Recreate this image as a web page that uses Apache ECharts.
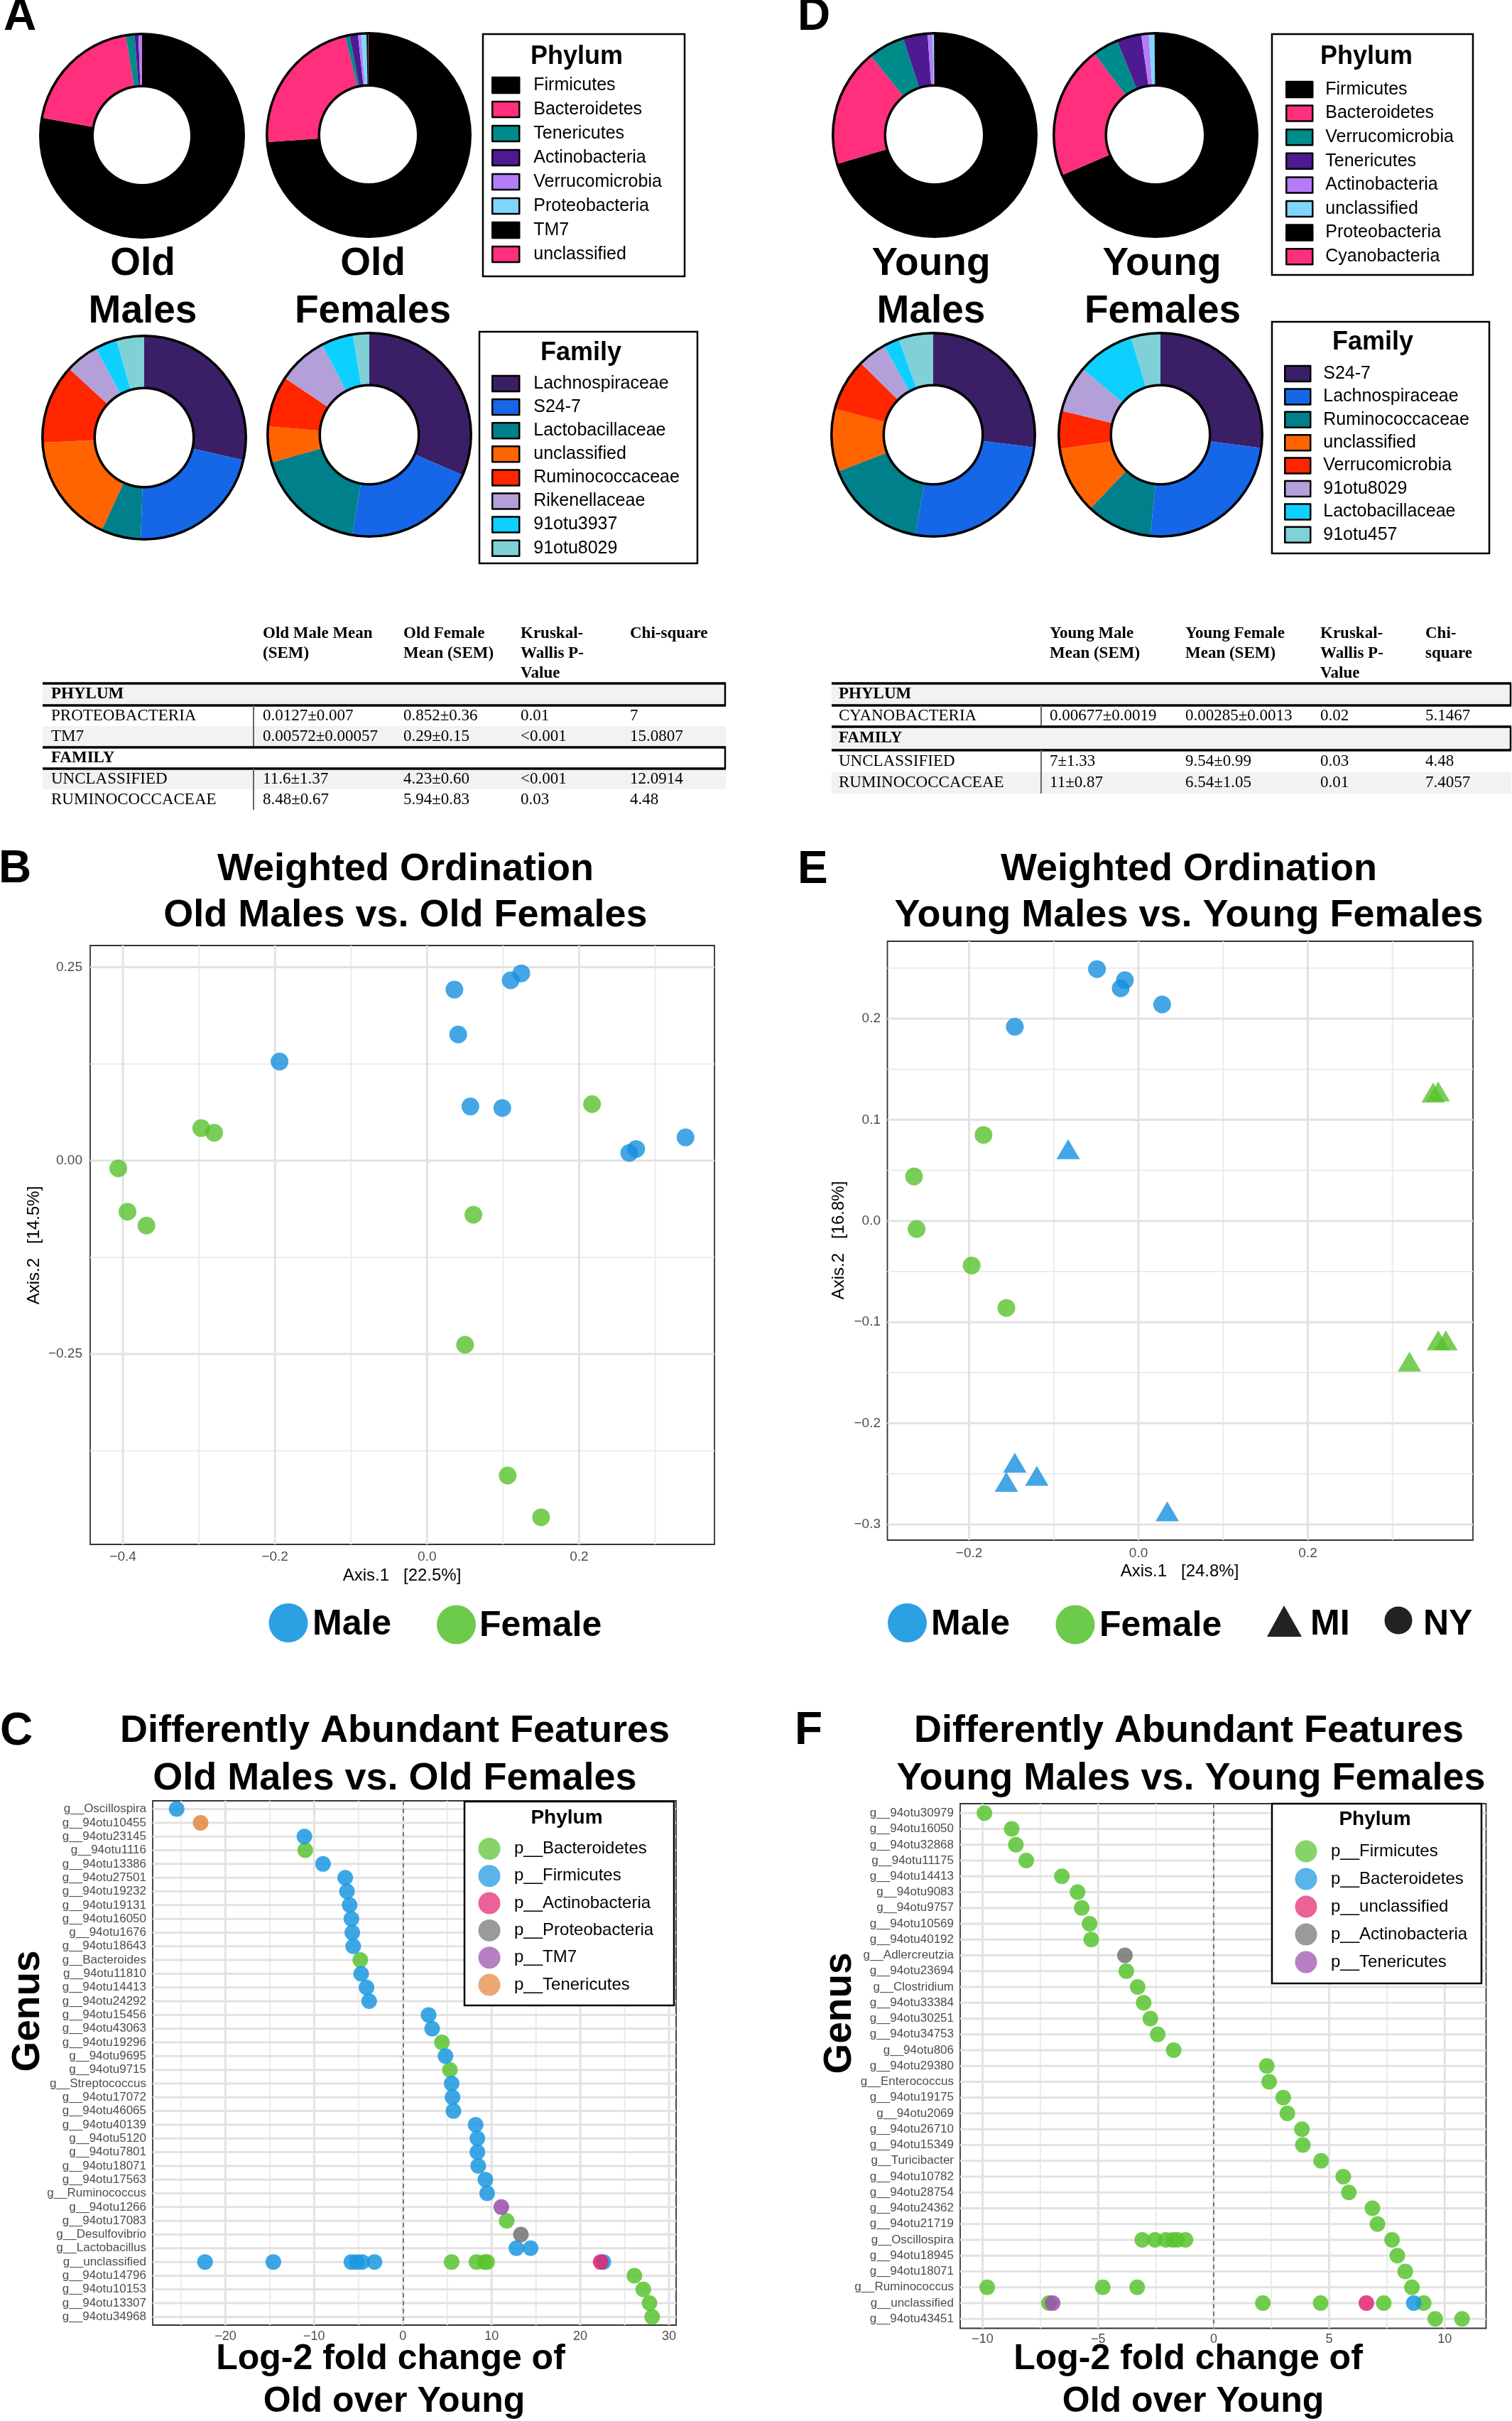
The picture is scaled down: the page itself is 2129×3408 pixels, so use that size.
<!DOCTYPE html>
<html><head><meta charset="utf-8">
<script src="https://cdn.jsdelivr.net/npm/echarts@6/dist/echarts.min.js"></script>
<style>html,body{margin:0;padding:0;background:#fff}#c{width:2129px;height:3408px}</style>
</head><body><div id="c"></div>
<script>
const SANS = '"Liberation Sans", Arial, Helvetica, sans-serif';
const SERIF = '"Liberation Serif", "Times New Roman", serif';

// ---------- Panel A / D : donut data (percent) ----------
const phylumNamesOld = ['Firmicutes','Bacteroidetes','Tenericutes','Actinobacteria','Verrucomicrobia','Proteobacteria','TM7','unclassified'];
const phylumNamesYoung = ['Firmicutes','Bacteroidetes','Verrucomicrobia','Tenericutes','Actinobacteria','unclassified','Proteobacteria','Cyanobacteria'];
const phylumColors = ['#000000','#ff2f7d','#008b8b','#4e1a91','#b57cf7','#7fd6fb','#000000','#ff2f7d'];
const oldMalesPhylum = [77.8, 19.6, 1.4, 0.6, 0.5, 0.0127, 0.00572, 0.05];
const oldFemalesPhylum = [74.1, 22.5, 0.7, 1.3, 0.5, 0.852, 0.29, 0.05];
const youngMalesPhylum = [70.4, 18.8, 5.8, 3.9, 0.8, 0.2, 0.1, 0.00677];
const youngFemalesPhylum = [68.5, 21.2, 4.1, 3.9, 1.2, 0.9, 0.15, 0.00285];

const familyNamesOld = ['Lachnospiraceae','S24-7','Lactobacillaceae','unclassified','Ruminococcaceae','Rikenellaceae','91otu3937','91otu8029'];
const familyNamesYoung = ['S24-7','Lachnospiraceae','Ruminococcaceae','unclassified','Verrucomicrobia','91otu8029','Lactobacillaceae','91otu457'];
const familyColors = ['#3b1f66','#1666e8','#00808a','#ff6400','#ff2600','#b3a0d9','#0dd0ff','#80d0d8'];
const oldMalesFamily = [28.6, 22.0, 6.3, 17.4, 12.6, 5.3, 3.5, 4.4];
const oldFemalesFamily = [31.5, 21.2, 17.9, 5.7, 8.1, 7.9, 5.1, 2.6];
const youngMalesFamily = [27.0, 25.9, 16.3, 10.0, 8.3, 4.6, 2.5, 5.5];
const youngFemalesFamily = [27.1, 24.5, 10.5, 10.7, 6.0, 7.4, 9.1, 4.7];

// ---------- Tables ----------
const tableOldHeaders = [['Old Male Mean','(SEM)'],['Old Female','Mean (SEM)'],['Kruskal-','Wallis P-','Value'],['Chi-square']];
const tableOldRows = [
  ['PHYLUM'],
  ['PROTEOBACTERIA','0.0127\u00b10.007','0.852\u00b10.36','0.01','7'],
  ['TM7','0.00572\u00b10.00057','0.29\u00b10.15','<0.001','15.0807'],
  ['FAMILY'],
  ['UNCLASSIFIED','11.6\u00b11.37','4.23\u00b10.60','<0.001','12.0914'],
  ['RUMINOCOCCACEAE','8.48\u00b10.67','5.94\u00b10.83','0.03','4.48']
];
const tableYoungHeaders = [['Young Male','Mean (SEM)'],['Young Female','Mean (SEM)'],['Kruskal-','Wallis P-','Value'],['Chi-','square']];
const tableYoungRows = [
  ['PHYLUM'],
  ['CYANOBACTERIA','0.00677\u00b10.0019','0.00285\u00b10.0013','0.02','5.1467'],
  ['FAMILY'],
  ['UNCLASSIFIED','7\u00b11.33','9.54\u00b10.99','0.03','4.48'],
  ['RUMINOCOCCACEAE','11\u00b10.87','6.54\u00b11.05','0.01','7.4057']
];

// ---------- Panel B : ordination old ----------
const bMaleX = [0.036, 0.110, 0.124, 0.041, -0.194, 0.057, 0.099, 0.266, 0.275, 0.340];
const bMaleY = [0.221, 0.233, 0.242, 0.163, 0.128, 0.070, 0.068, 0.010, 0.015, 0.030];
const bFemaleX = [0.217, -0.297, -0.280, -0.406, -0.394, -0.369, 0.061, 0.050, 0.106, 0.150];
const bFemaleY = [0.073, 0.042, 0.036, -0.010, -0.066, -0.084, -0.070, -0.238, -0.407, -0.461];
const bXTicks = [-0.4, -0.2, 0, 0.2], bXMinor = [-0.3, -0.1, 0.1, 0.3];
const bYTicks = [-0.25, 0, 0.25], bYMinor = [-0.375, -0.125, 0.125];

// ---------- Panel E : ordination young ----------
const eMaleX = [-0.049, -0.016, -0.021, 0.028, -0.146, -0.083, -0.146, -0.156, -0.120, 0.034];
const eMaleY = [0.249, 0.238, 0.230, 0.214, 0.192, 0.071, -0.239, -0.258, -0.252, -0.287];
const eMaleSite = ['NY','NY','NY','NY','NY','MI','MI','MI','MI','MI'];
const eFemaleX = [-0.183, -0.265, -0.262, -0.197, -0.156, 0.348, 0.354, 0.354, 0.363, 0.320];
const eFemaleY = [0.085, 0.044, -0.008, -0.044, -0.086, 0.127, 0.128, -0.118, -0.118, -0.139];
const eFemaleSite = ['NY','NY','NY','NY','NY','MI','MI','MI','MI','MI'];
const eXTicks = [-0.2, 0, 0.2], eXMinor = [-0.1, 0.1, 0.3];
const eYTicks = [-0.3, -0.2, -0.1, 0, 0.1, 0.2], eYMinor = [-0.25, -0.15, -0.05, 0.05, 0.15, 0.25];

// ---------- Panel C : differential abundance old ----------
const cGenera = ['g__Oscillospira','g__94otu10455','g__94otu23145','g__94otu1116','g__94otu13386','g__94otu27501','g__94otu19232','g__94otu19131','g__94otu16050','g__94otu1676','g__94otu18643','g__Bacteroides','g__94otu11810','g__94otu14413','g__94otu24292','g__94otu15456','g__94otu43063','g__94otu19296','g__94otu9695','g__94otu9715','g__Streptococcus','g__94otu17072','g__94otu46065','g__94otu40139','g__94otu5120','g__94otu7801','g__94otu18071','g__94otu17563','g__Ruminococcus','g__94otu1266','g__94otu17083','g__Desulfovibrio','g__Lactobacillus','g__unclassified','g__94otu14796','g__94otu10153','g__94otu13307','g__94otu34968'];
const cPointGenus = ['g__Oscillospira','g__94otu10455','g__94otu23145','g__94otu1116','g__94otu13386','g__94otu27501','g__94otu19232','g__94otu19131','g__94otu16050','g__94otu1676','g__94otu18643','g__Bacteroides','g__94otu11810','g__94otu14413','g__94otu24292','g__94otu15456','g__94otu43063','g__94otu19296','g__94otu9695','g__94otu9715','g__Streptococcus','g__94otu17072','g__94otu46065','g__94otu40139','g__94otu5120','g__94otu7801','g__94otu18071','g__94otu17563','g__Ruminococcus','g__94otu1266','g__94otu17083','g__Desulfovibrio','g__Lactobacillus','g__Lactobacillus','g__unclassified','g__unclassified','g__unclassified','g__unclassified','g__unclassified','g__unclassified','g__unclassified','g__unclassified','g__unclassified','g__unclassified','g__unclassified','g__unclassified','g__94otu14796','g__94otu10153','g__94otu13307','g__94otu34968'];
const cPointLfc = [-25.5,-22.8,-11.1,-11.0,-9.0,-6.5,-6.3,-6.0,-5.8,-5.7,-5.6,-4.8,-4.7,-4.1,-3.8,2.9,3.3,4.4,4.8,5.3,5.5,5.6,5.7,8.2,8.4,8.4,8.5,9.3,9.5,11.1,11.7,13.3,12.8,14.4,-22.3,-14.6,-5.8,-5.2,-4.6,-3.2,22.6,5.5,8.3,9.2,9.5,22.3,26.1,27.1,27.8,28.1];
const cPointPhylum = ['p__Firmicutes','p__Tenericutes','p__Firmicutes','p__Bacteroidetes','p__Firmicutes','p__Firmicutes','p__Firmicutes','p__Firmicutes','p__Firmicutes','p__Firmicutes','p__Firmicutes','p__Bacteroidetes','p__Firmicutes','p__Firmicutes','p__Firmicutes','p__Firmicutes','p__Firmicutes','p__Bacteroidetes','p__Firmicutes','p__Bacteroidetes','p__Firmicutes','p__Firmicutes','p__Firmicutes','p__Firmicutes','p__Firmicutes','p__Firmicutes','p__Firmicutes','p__Firmicutes','p__Firmicutes','p__TM7','p__Bacteroidetes','p__Proteobacteria','p__Firmicutes','p__Firmicutes','p__Firmicutes','p__Firmicutes','p__Firmicutes','p__Firmicutes','p__Firmicutes','p__Firmicutes','p__Firmicutes','p__Bacteroidetes','p__Bacteroidetes','p__Bacteroidetes','p__Bacteroidetes','p__Actinobacteria','p__Bacteroidetes','p__Bacteroidetes','p__Bacteroidetes','p__Bacteroidetes'];
const cPhyla = ['p__Bacteroidetes','p__Firmicutes','p__Actinobacteria','p__Proteobacteria','p__TM7','p__Tenericutes'];
const cPhylaColors = ['#58c430','#1b98e0','#e2266f','#737373','#9a4fae','#e3863f'];
const cXTicks = [-20,-10,0,10,20,30], cXMinor = [-25,-15,-5,5,15,25];

// ---------- Panel F : differential abundance young ----------
const fGenera = ['g__94otu30979','g__94otu16050','g__94otu32868','g__94otu11175','g__94otu14413','g__94otu9083','g__94otu9757','g__94otu10569','g__94otu40192','g__Adlercreutzia','g__94otu23694','g__Clostridium','g__94otu33384','g__94otu30251','g__94otu34753','g__94otu806','g__94otu29380','g__Enterococcus','g__94otu19175','g__94otu2069','g__94otu26710','g__94otu15349','g__Turicibacter','g__94otu10782','g__94otu28754','g__94otu24362','g__94otu21719','g__Oscillospira','g__94otu18945','g__94otu18071','g__Ruminococcus','g__unclassified','g__94otu43451'];
const fPointGenus = ['g__94otu30979','g__94otu16050','g__94otu32868','g__94otu11175','g__94otu14413','g__94otu9083','g__94otu9757','g__94otu10569','g__94otu40192','g__Adlercreutzia','g__94otu23694','g__Clostridium','g__94otu33384','g__94otu30251','g__94otu34753','g__94otu806','g__94otu29380','g__Enterococcus','g__94otu19175','g__94otu2069','g__94otu26710','g__94otu15349','g__Turicibacter','g__94otu10782','g__94otu28754','g__94otu24362','g__94otu21719','g__Oscillospira','g__Oscillospira','g__Oscillospira','g__Oscillospira','g__Oscillospira','g__Oscillospira','g__Oscillospira','g__94otu18945','g__94otu18071','g__Ruminococcus','g__Ruminococcus','g__Ruminococcus','g__Ruminococcus','g__unclassified','g__unclassified','g__unclassified','g__unclassified','g__unclassified','g__unclassified','g__unclassified','g__unclassified','g__94otu43451','g__94otu43451'];
const fPointLfc = [-9.92,-8.74,-8.56,-8.11,-6.57,-5.89,-5.71,-5.37,-5.30,-3.84,-3.78,-3.29,-3.03,-2.74,-2.42,-1.73,2.30,2.40,3.01,3.19,3.82,3.86,4.65,5.61,5.85,6.87,7.09,-3.09,-2.54,-2.07,-1.77,-1.57,-1.22,7.72,7.95,8.29,-9.80,-4.80,-3.31,8.58,-7.13,-6.97,2.13,4.63,7.36,9.09,6.61,8.66,9.59,10.75];
const fPointPhylum = ['p__Firmicutes','p__Firmicutes','p__Firmicutes','p__Firmicutes','p__Firmicutes','p__Firmicutes','p__Firmicutes','p__Firmicutes','p__Firmicutes','p__Actinobacteria','p__Firmicutes','p__Firmicutes','p__Firmicutes','p__Firmicutes','p__Firmicutes','p__Firmicutes','p__Firmicutes','p__Firmicutes','p__Firmicutes','p__Firmicutes','p__Firmicutes','p__Firmicutes','p__Firmicutes','p__Firmicutes','p__Firmicutes','p__Firmicutes','p__Firmicutes','p__Firmicutes','p__Firmicutes','p__Firmicutes','p__Firmicutes','p__Firmicutes','p__Firmicutes','p__Firmicutes','p__Firmicutes','p__Firmicutes','p__Firmicutes','p__Firmicutes','p__Firmicutes','p__Firmicutes','p__Firmicutes','p__Tenericutes','p__Firmicutes','p__Firmicutes','p__Firmicutes','p__Firmicutes','p__unclassified','p__Bacteroidetes','p__Firmicutes','p__Firmicutes'];
const fPhyla = ['p__Firmicutes','p__Bacteroidetes','p__unclassified','p__Actinobacteria','p__Tenericutes'];
const fPhylaColors = ['#58c430','#1b98e0','#e2266f','#737373','#9a4fae'];
const fXTicks = [-10,-5,0,5,10], fXMinor = [-7.5,-2.5,2.5,7.5];

// ================= build =================
const chart = echarts.init(document.getElementById('c'), null, {renderer:'canvas', width:2129, height:3408});
const G = [];
function T(x, y, text, font, o) {
  o = o || {};
  const al = o.align || 'center', va = o.va || 'middle';
  G.push({type:'text', x, y, rotation:o.rot || 0, z:o.z || 50, silent:true,
    style:{text:String(text), font, fill:o.fill || '#000', textAlign:al, textVerticalAlign:va, align:al, verticalAlign:va}});
}
function R(x, y, w, h, fill, stroke, lw, z) {
  G.push({type:'rect', z:z || 40, silent:true, shape:{x, y, width:w, height:h},
    style:{fill:fill || 'none', stroke:stroke || null, lineWidth:lw || 0}});
}
function L(x1, y1, x2, y2, stroke, lw, z) {
  G.push({type:'line', z:z || 45, silent:true, shape:{x1, y1, x2, y2}, style:{stroke, lineWidth:lw}});
}
function C(cx, cy, r, fill, z) {
  G.push({type:'circle', z:z || 45, silent:true, shape:{cx, cy, r}, style:{fill}});
}
function blend(hex, a) {
  const n = parseInt(hex.slice(1), 16), r = n >> 16, g = (n >> 8) & 255, b = n & 255;
  const m = c => Math.round(c * a + 255 * (1 - a));
  return 'rgb(' + m(r) + ',' + m(g) + ',' + m(b) + ')';
}
const fmtNum = (v, d) => (v < -1e-9 ? '\u2212' : '') + Math.abs(v).toFixed(d);

// ---- donuts ----
const series = [];
function donut(center, names, values, colors) {
  series.push({type:'pie', center, radius:[70, 143], startAngle:90, clockwise:true, silent:true,
    avoidLabelOverlap:false, minAngle:0, label:{show:false}, labelLine:{show:false},
    itemStyle:{borderWidth:0}, emphasis:{disabled:true}, z:2,
    data:names.map((n, i) => ({name:n, value:values[i], itemStyle:{color:colors[i]}}))});
  [[141.5, 145], [68, 71.5]].forEach(r => series.push({type:'pie', center, radius:r, silent:true,
    label:{show:false}, labelLine:{show:false}, emphasis:{disabled:true}, z:3,
    itemStyle:{color:'#000', borderWidth:0}, data:[{name:'__ring', value:1}]}));
}
donut([200, 191], phylumNamesOld, oldMalesPhylum, phylumColors);
donut([519, 190], phylumNamesOld, oldFemalesPhylum, phylumColors);
donut([203, 616], familyNamesOld, oldMalesFamily, familyColors);
donut([520, 612], familyNamesOld, oldFemalesFamily, familyColors);
donut([1316, 190], phylumNamesYoung, youngMalesPhylum, phylumColors);
donut([1627, 190], phylumNamesYoung, youngFemalesPhylum, phylumColors);
donut([1314, 612], familyNamesYoung, youngMalesFamily, familyColors);
donut([1634, 612], familyNamesYoung, youngFemalesFamily, familyColors);

// panel letters
const LET = 'bold 64px ' + SANS;
T(5, 24, 'A', LET, {align:'left'});
T(1123, 24, 'D', LET, {align:'left'});
T(-2, 1224, 'B', LET, {align:'left'});
T(1123, 1225, 'E', LET, {align:'left'});
T(0, 2438, 'C', LET, {align:'left'});
T(1119, 2437, 'F', LET, {align:'left'});

// donut captions
const CAP = 'bold 55px ' + SANS;
T(201, 372, 'Old', CAP); T(201, 439, 'Males', CAP);
T(525, 372, 'Old', CAP); T(525, 439, 'Females', CAP);
T(1311, 372, 'Young', CAP); T(1311, 439, 'Males', CAP);
T(1636, 372, 'Young', CAP); T(1637, 439, 'Females', CAP);

// donut legend boxes & titles
R(680, 48, 284, 341, '#fff', '#000', 2.5, 30); T(812, 80, 'Phylum', 'bold 36px ' + SANS);
R(675, 467, 307, 326, '#fff', '#000', 2.5, 30); T(818, 497, 'Family', 'bold 36px ' + SANS);
R(1791, 48, 283, 339, '#fff', '#000', 2.5, 30); T(1924, 80, 'Phylum', 'bold 36px ' + SANS);
R(1791, 453, 306, 326, '#fff', '#000', 2.5, 30); T(1933, 482, 'Family', 'bold 36px ' + SANS);

// ---- tables ----
function drawTable(x0, x1, colX, labelX, headers, rows, bounds, bgs, divX) {
  const hy = [892, 920, 948];
  headers.forEach((lines, ci) => lines.forEach((ln, li) => T(colX[ci], hy[li], ln, 'bold 23px ' + SERIF, {align:'left'})));
  rows.forEach((row, ri) => {
    const y0 = bounds[ri], y1 = bounds[ri + 1], yc = (y0 + y1) / 2;
    if (bgs[ri]) R(x0, y0, x1 - x0, y1 - y0, bgs[ri], null, 0, 20);
    if (row.length === 1) {
      L(x0, y0, x1, y0, '#000', 3.5); L(x0, y1, x1, y1, '#000', 3.5); L(x1 - 1, y0, x1 - 1, y1, '#000', 2.5);
      T(labelX, yc, row[0], 'bold 23px ' + SERIF, {align:'left'});
    } else {
      L(divX, y0, divX, y1, '#666', 2);
      T(labelX, yc, row[0], '23px ' + SERIF, {align:'left'});
      row.slice(1).forEach((v, ci) => T(colX[ci], yc, v, '23px ' + SERIF, {align:'left'}));
    }
  });
}
drawTable(60, 1022, [370, 568, 733, 887], 72, tableOldHeaders, tableOldRows,
  [962, 993, 1022, 1052, 1082, 1111, 1140], ['#f2f2f2', null, '#f2f2f2', '#ffffff', '#f2f2f2', null], 357);
drawTable(1171, 2128, [1478, 1669, 1859, 2007], 1181, tableYoungHeaders, tableYoungRows,
  [962, 993, 1023, 1056, 1087, 1117], ['#f2f2f2', null, '#f2f2f2', null, '#f2f2f2'], 1466);

// ---- B / E titles, axis titles, legends ----
const TIT = 'bold 54px ' + SANS;
T(571, 1224, 'Weighted Ordination', TIT); T(571, 1289, 'Old Males vs. Old Females', TIT);
T(1674, 1224, 'Weighted Ordination', TIT); T(1674, 1289, 'Young Males vs. Young Females', TIT);
const AXT = '24px ' + SANS;
T(566, 2218, 'Axis.1   [22.5%]', AXT);
T(48, 1753, 'Axis.2   [14.5%]', AXT, {rot:Math.PI / 2});
T(1661, 2212, 'Axis.1   [24.8%]', AXT);
T(1181, 1746, 'Axis.2   [16.8%]', AXT, {rot:Math.PI / 2});
const LEGB = 'bold 50px ' + SANS;
C(406, 2284.5, 27.5, '#2ba0e3'); T(440, 2287, 'Male', LEGB, {align:'left'});
C(642.5, 2287, 27.5, '#6ccb4b'); T(675, 2289, 'Female', LEGB, {align:'left'});
C(1277.5, 2284.5, 27.5, '#2ba0e3'); T(1311, 2287, 'Male', LEGB, {align:'left'});
C(1514, 2287, 27.5, '#6ccb4b'); T(1548, 2289, 'Female', LEGB, {align:'left'});
G.push({type:'polygon', z:45, silent:true, shape:{points:[[1808, 2260], [1784, 2304], [1833, 2304]]}, style:{fill:'#222'}});
T(1845, 2287, 'MI', LEGB, {align:'left'});
C(1969, 2281, 19.5, '#222'); T(2004, 2287, 'NY', LEGB, {align:'left'});

// ---- C / F titles etc ----
T(556, 2437, 'Differently Abundant Features', TIT); T(556, 2504, 'Old Males vs. Old Females', TIT);
T(1674, 2437, 'Differently Abundant Features', TIT); T(1677, 2504, 'Young Males vs. Young Females', TIT);
T(40, 2831, 'Genus', 'bold 55px ' + SANS, {rot:Math.PI / 2});
T(1183, 2834, 'Genus', 'bold 55px ' + SANS, {rot:Math.PI / 2});
const XT = 'bold 50px ' + SANS;
T(550, 3321, 'Log-2 fold change of', XT); T(555, 3381, 'Old over Young', XT);
T(1673, 3321, 'Log-2 fold change of', XT); T(1680, 3381, 'Old over Young', XT);
R(654, 2536, 295, 287, '#fff', '#000', 2.5, 40); T(798, 2559, 'Phylum', 'bold 28px ' + SANS);
R(1791, 2539, 295, 253, '#fff', '#000', 2.5, 40); T(1936, 2561, 'Phylum', 'bold 28px ' + SANS);

// ---- legends (component) ----
function rectLegend(left, top, gap, iw, pad, names, colors) {
  return {orient:'vertical', left, top, itemWidth:iw, itemHeight:22, itemGap:gap, icon:'rect', padding:0, z:60,
    selectedMode:false, align:'left',
    textStyle:{fontSize:25, fontFamily:SANS, color:'#000', padding:[0, 0, 0, pad], lineHeight:26, height:26},
    data:names.map((n, i) => ({name:n, itemStyle:{color:colors[i], borderColor:'#000', borderWidth:2.5}}))};
}
function dotLegend(left, top, gap, names, colors) {
  return {orient:'vertical', left, top, itemWidth:31, itemHeight:31, itemGap:gap, icon:'circle', padding:0, z:60,
    selectedMode:false, align:'left',
    textStyle:{fontSize:24, fontFamily:SANS, color:'#000', padding:[0, 0, 0, 14.5]},
    data:names.map((n, i) => ({name:n, itemStyle:{color:blend(colors[i], 0.85), borderWidth:0}}))};
}
const legends = [
  rectLegend(692, 107, 8, 38, 15, phylumNamesOld, phylumColors),
  rectLegend(692, 527, 7.1, 38, 15, familyNamesOld, familyColors),
  rectLegend(1810, 113, 7.6, 37, 13, phylumNamesYoung, phylumColors),
  rectLegend(1808, 513, 6.4, 36, 13, familyNamesYoung, familyColors),
  dotLegend(673.5, 2587, 7.3, cPhyla, cPhylaColors),
  dotLegend(1823.5, 2590.5, 8, fPhyla, fPhylaColors)
];

// ---- axes ----
function axis(gridIndex, min, max, ticks, fmt, size, margin, extra) {
  return Object.assign({type:'value', gridIndex, min, max,
    axisLine:{show:false},
    axisTick:{show:true, length:5, lineStyle:{color:'#333', width:1.5}, customValues:ticks},
    axisLabel:{show:true, customValues:ticks, formatter:fmt, fontSize:size, color:'#4d4d4d', margin, fontFamily:SANS},
    splitLine:{show:false}, minorTick:{show:false}, minorSplitLine:{show:false}}, extra || {});
}
const gridStyle = {show:true, borderColor:'#333', borderWidth:1.8, backgroundColor:'transparent', containLabel:false, outerBoundsMode:'none'};
const grids = [
  Object.assign({left:127, top:1331, width:879, height:843}, gridStyle),
  Object.assign({left:1249.5, top:1325, width:824.5, height:843}, gridStyle),
  Object.assign({left:215, top:2535, width:737, height:738}, gridStyle),
  Object.assign({left:1352, top:2539, width:740.5, height:738.5}, gridStyle)
];
const bXR = [-0.443, 0.378], bYR = [-0.496, 0.278];
const eXR = [-0.2965, 0.395], eYR = [-0.3155, 0.2765];
const cXR = [-28.2, 30.8], cYR = [-0.6, cGenera.length - 0.4];
const fXR = [-10.97, 11.79], fYR = [-0.6, fGenera.length - 0.4];
const cIdx = cGenera.map((_, i) => i), fIdx = fGenera.map((_, i) => i);
const xAxes = [
  axis(0, bXR[0], bXR[1], bXTicks, v => fmtNum(v, 1), 19, 8, {position:'bottom'}),
  axis(1, eXR[0], eXR[1], eXTicks, v => fmtNum(v, 1), 19, 9, {position:'bottom'}),
  axis(2, cXR[0], cXR[1], cXTicks, v => fmtNum(v, 0), 18, 7, {position:'bottom'}),
  axis(3, fXR[0], fXR[1], fXTicks, v => fmtNum(v, 0), 18, 7, {position:'bottom'})
];
const yAxes = [
  axis(0, bYR[0], bYR[1], bYTicks, v => fmtNum(v, 2), 19, 11, {position:'left'}),
  axis(1, eYR[0], eYR[1], eYTicks, v => fmtNum(v, 1), 19, 9.5, {position:'left'}),
  axis(2, cYR[0], cYR[1], cIdx, v => cGenera[Math.round(v)], 17, 9, {position:'left', inverse:true}),
  axis(3, fYR[0], fYR[1], fIdx, v => fGenera[Math.round(v)], 17, 9, {position:'left', inverse:true})
];

// ---- panel gridlines (ggplot theme_bw look): line series placed through the axes' scales ----
const MAJOR_GRID = '#e2e2e2', MINOR_GRID = '#ebebeb';
function gridLines(ai, xr, yr, xMaj, xMin, yMaj, yMin) {
  const out = [];
  const mk = (pts, w, c) => out.push({type:'line', xAxisIndex:ai, yAxisIndex:ai, silent:true, z:1,
    symbol:'none', showSymbol:false, connectNulls:false, animation:false, clip:false,
    lineStyle:{color:c, width:w}, emphasis:{disabled:true}, data:pts});
  const seg = (vals, vertical) => {
    const pts = [];
    vals.forEach(v => {
      if (vertical) { pts.push([v, yr[0]], [v, yr[1]]); } else { pts.push([xr[0], v], [xr[1], v]); }
      pts.push('-');
    });
    return pts;
  };
  mk(seg(xMin, true), 2, MINOR_GRID); if (yMin.length) mk(seg(yMin, false), 2, MINOR_GRID);
  mk(seg(xMaj, true), 3, MAJOR_GRID); mk(seg(yMaj, false), 3, MAJOR_GRID);
  return out;
}
[].concat(
  gridLines(0, bXR, bYR, bXTicks, bXMinor, bYTicks, bYMinor),
  gridLines(1, eXR, eYR, eXTicks, eXMinor, eYTicks, eYMinor),
  gridLines(2, cXR, cYR, cXTicks, cXMinor, cIdx, []),
  gridLines(3, fXR, fYR, fXTicks, fXMinor, fIdx, [])
).forEach(s => series.push(s));

// ---- scatter series ----
const BLUE = '#1590df', GREEN = '#58c22e';
series.push({type:'scatter', name:'Male', xAxisIndex:0, yAxisIndex:0, symbol:'circle', symbolSize:25, silent:true, z:10,
  itemStyle:{color:BLUE}, data:bMaleX.map((x, i) => [x, bMaleY[i]])});
series.push({type:'scatter', name:'Female', xAxisIndex:0, yAxisIndex:0, symbol:'circle', symbolSize:25, silent:true, z:10,
  itemStyle:{color:GREEN}, data:bFemaleX.map((x, i) => [x, bFemaleY[i]])});
const siteSymbol = s => s === 'MI' ? 'triangle' : 'circle';
const siteSize = s => s === 'MI' ? [33, 28] : 25;
series.push({type:'scatter', name:'Male', xAxisIndex:1, yAxisIndex:1, silent:true, z:10, itemStyle:{color:BLUE},
  data:eMaleX.map((x, i) => ({value:[x, eMaleY[i]], symbol:siteSymbol(eMaleSite[i]), symbolSize:siteSize(eMaleSite[i])}))});
series.push({type:'scatter', name:'Female', xAxisIndex:1, yAxisIndex:1, silent:true, z:10, itemStyle:{color:GREEN},
  data:eFemaleX.map((x, i) => ({value:[x, eFemaleY[i]], symbol:siteSymbol(eFemaleSite[i]), symbolSize:siteSize(eFemaleSite[i])}))});

const zeroLine = {silent:true, symbol:['none', 'none'], label:{show:false}, emphasis:{disabled:true},
  lineStyle:{type:[6, 5], color:'#555', width:1.5}, data:[{xAxis:0}]};
cPhyla.forEach((p, k) => {
  const data = [];
  cPointPhylum.forEach((pp, i) => { if (pp === p) data.push([cPointLfc[i], cGenera.indexOf(cPointGenus[i])]); });
  const s = {type:'scatter', name:p, xAxisIndex:2, yAxisIndex:2, symbol:'circle', symbolSize:22, silent:true, z:10,
    itemStyle:{color:cPhylaColors[k], opacity:0.85}, data};
  if (k === 0) s.markLine = zeroLine;
  series.push(s);
});
fPhyla.forEach((p, k) => {
  const data = [];
  fPointPhylum.forEach((pp, i) => { if (pp === p) data.push([fPointLfc[i], fGenera.indexOf(fPointGenus[i])]); });
  const s = {type:'scatter', name:p, xAxisIndex:3, yAxisIndex:3, symbol:'circle', symbolSize:22, silent:true, z:10,
    itemStyle:{color:fPhylaColors[k], opacity:0.85}, data};
  if (k === 0) s.markLine = zeroLine;
  series.push(s);
});

chart.setOption({
  animation:false,
  backgroundColor:'#ffffff',
  textStyle:{fontFamily:SANS},
  grid:grids, xAxis:xAxes, yAxis:yAxes,
  legend:legends,
  series,
  graphic:{elements:G}
});
</script></body></html>
